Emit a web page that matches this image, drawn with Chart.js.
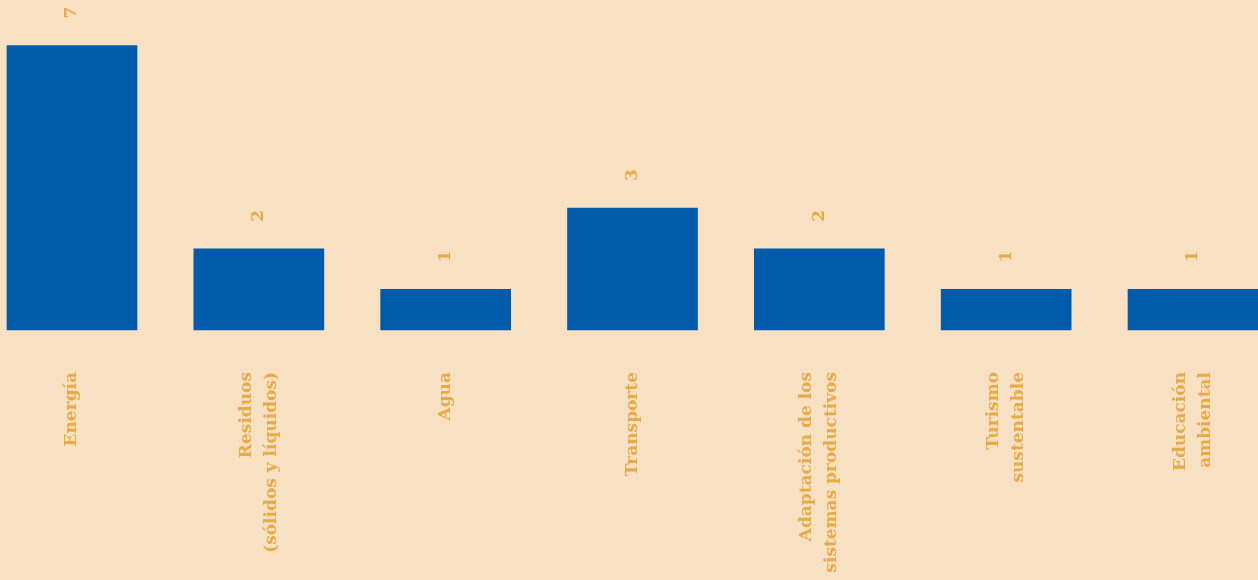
<!DOCTYPE html>
<html>
<head>
<meta charset="utf-8">
<script src="https://cdn.jsdelivr.net/npm/chart.js@4"></script>
<style>
  html, body { margin: 0; padding: 0; background: #f7e1c2; }
  #wrap { width: 1258px; height: 580px; }
</style>
</head>
<body>
<div id="wrap"><canvas id="chart" width="1258" height="580"></canvas></div>
<script>
const categories = [
  "Energía",
  ["Residuos", "(sólidos y líquidos)"],
  "Agua",
  "Transporte",
  ["Adaptación de los", "sistemas productivos"],
  ["Turismo", "sustentable"],
  ["Educación", "ambiental"]
];
const values = [7, 2, 1, 3, 2, 1, 1];

const orange = "#e9aa45";
const blue = "#005baa";
const labelFont = { family: "'DejaVu Serif', serif", weight: "bold", size: 17, lineHeight: 1.45 };

// numbers above the bars, turned like the category names
const valueLabels = {
  id: "valueLabels",
  beforeDraw(chart) {
    // center multi-line category names on their tick
    const items = chart.scales.x.getLabelItems();
    items.forEach((item) => {
      const n = Array.isArray(item.label) ? item.label.length : 1;
      if (n > 1) {
        item.textOffset -= (n - 1) * item.font.lineHeight / 2;
      }
    });
  },
  afterDatasetsDraw(chart) {
    const ctx = chart.ctx;
    const meta = chart.getDatasetMeta(0);
    ctx.save();
    ctx.fillStyle = orange;
    ctx.font = "bold 17px 'DejaVu Serif', serif";
    ctx.textAlign = "center";
    ctx.textBaseline = "middle";
    meta.data.forEach((bar, i) => {
      ctx.save();
      ctx.translate(bar.x, bar.y - 33);
      ctx.rotate(-Math.PI / 2);
      ctx.fillText(String(values[i]), 0, 0);
      ctx.restore();
    });
    ctx.restore();
  }
};

const drawChart = () => {
  const chart = document.getElementById("chart").getContext("2d");
  new Chart(chart, {
    type: "bar",
    data: {
      labels: categories,
      datasets: [
        {
          data: values,
          backgroundColor: blue,
          barThickness: 130,
          clip: false
        }
      ]
    },
    options: {
      responsive: false,
      animation: false,
      layout: { padding: { left: 72, right: 65, top: 5, bottom: 0 } },
      plugins: {
        legend: { display: false },
        tooltip: { enabled: false }
      },
      scales: {
        x: {
          offset: false,
          grid: { display: false },
          border: { display: false },
          afterFit: (scale) => {
            scale.height = 250;
            scale.paddingLeft = 0;
            scale.paddingRight = 0;
          },
          ticks: {
            autoSkip: false,
            minRotation: 90,
            maxRotation: 90,
            padding: 34,
            color: orange,
            font: labelFont
          }
        },
        y: {
          display: false,
          min: 0,
          max: 8
        }
      }
    },
    plugins: [valueLabels]
  });
};
drawChart();
</script>
</body>
</html>
